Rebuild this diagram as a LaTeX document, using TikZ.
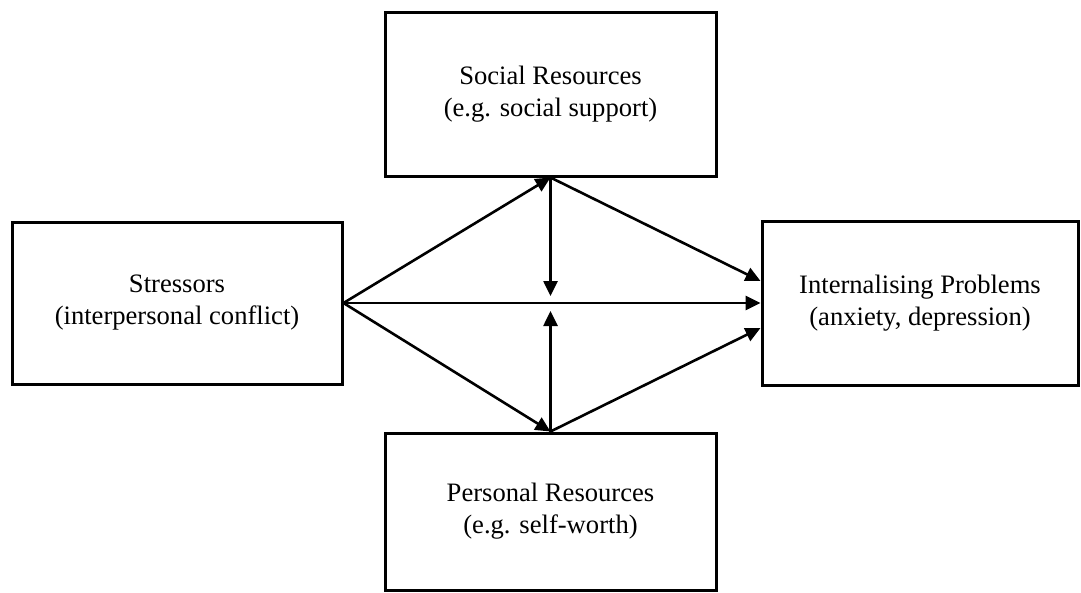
\documentclass[tikz,border=0pt]{standalone}
\usepackage{fontspec}
\setmainfont{Liberation Serif}
\usetikzlibrary{arrows.meta}
\begin{document}
\begin{tikzpicture}[x=1pt, y=-1pt,
  box/.style={draw, line width=3pt, rectangle, align=center, inner sep=0pt,
    font=\fontsize{26.6}{32}\selectfont},
  link/.style={line width=2.6pt, -{Triangle[length=15pt, width=14pt]}}]
  \useasboundingbox (0,0) rectangle (1081,592);

  % the four variable boxes
  \node[box, minimum width=331pt, minimum height=164pt] (social) at (550.5,94)
    {Social Resources\\(e.g. social support)};
  \node[box, minimum width=330pt, minimum height=162pt] (stress) at (177,303)
    {Stressors\\(interpersonal conflict)};
  \node[box, minimum width=316pt, minimum height=164pt] (intern) at (920,303)
    {Internalising Problems\\(anxiety, depression)};
  \node[box, minimum width=331pt, minimum height=157pt] (personal) at (550.5,511.5)
    {Personal Resources\\(e.g. self-worth)};

  % end points of the moderating paths and the upper/lower inputs
  \coordinate (modtop) at (550.5,296);
  \coordinate (modbot) at (550.5,311);
  \coordinate (inup) at ([yshift=22pt]intern.west);
  \coordinate (indown) at ([yshift=-25pt]intern.west);

  % paths
  \draw[link] (stress.east) -- (social.south);
  \draw[link] (stress.east) -- (personal.north);
  \draw[link] (stress.east) -- (intern.west);
  \draw[link] (social.south) -- (inup);
  \draw[link] (personal.north) -- (indown);
  \draw[link] (social.south) -- (modtop);
  \draw[link] (personal.north) -- (modbot);
\end{tikzpicture}
\end{document}
